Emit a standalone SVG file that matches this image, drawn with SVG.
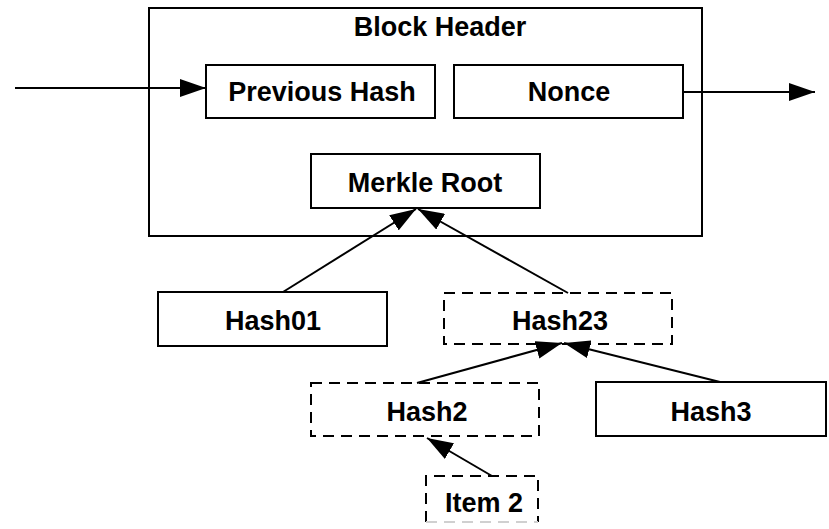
<svg xmlns="http://www.w3.org/2000/svg" width="829" height="529" viewBox="0 0 829 529">
  <style>
    .box { fill: #fff; stroke: #000; stroke-width: 2; }
    .dash { fill: #fff; stroke: #000; stroke-width: 2; stroke-dasharray: 11 7; }
    .frame { fill: none; stroke: #000; stroke-width: 2; }
    .lbl { font-family: "Liberation Sans", Arial, sans-serif; font-weight: bold; font-size: 27px; fill: #000; text-anchor: middle; }
    .edge { fill: none; stroke: #000; stroke-width: 2; marker-end: url(#head); }
  </style>
  <defs>
    <marker id="head" viewBox="0 0 26 18" refX="26" refY="9" markerWidth="26" markerHeight="18" markerUnits="userSpaceOnUse" orient="auto">
      <path d="M0,0 L26,9 L0,18 Z" fill="#000"/>
    </marker>
  </defs>

  <!-- block header frame -->
  <g id="block-header">
    <rect class="frame" x="149" y="8" width="553" height="228"/>
    <text class="lbl" x="440" y="36">Block Header</text>
  </g>

  <g id="previous-hash">
    <rect class="box" x="206" y="65" width="229" height="53"/>
    <text class="lbl" x="322" y="101">Previous Hash</text>
  </g>

  <g id="nonce">
    <rect class="box" x="454" y="65" width="229" height="53"/>
    <text class="lbl" x="569" y="101">Nonce</text>
  </g>

  <g id="merkle-root">
    <rect class="box" x="311" y="154" width="229" height="54"/>
    <text class="lbl" x="425" y="192">Merkle Root</text>
  </g>

  <g id="hash01">
    <rect class="box" x="158" y="292" width="229" height="54"/>
    <text class="lbl" x="273" y="330">Hash01</text>
  </g>

  <g id="hash23">
    <rect class="dash" x="444" y="293" width="228" height="51"/>
    <text class="lbl" x="560" y="330">Hash23</text>
  </g>

  <g id="hash2">
    <rect class="dash" x="311" y="383" width="228" height="53"/>
    <text class="lbl" x="427" y="421">Hash2</text>
  </g>

  <g id="hash3">
    <rect class="box" x="596" y="382" width="230" height="54"/>
    <text class="lbl" x="711" y="421">Hash3</text>
  </g>

  <g id="item2">
    <path d="M426,522 L426,476 L538,476 L538,522" fill="#fff" stroke="#000" stroke-width="2" stroke-dasharray="11 7"/>
    <line x1="426" y1="522" x2="538" y2="522" stroke="#d0d0d0" stroke-width="2" stroke-dasharray="11 7"/>
    <text class="lbl" x="484" y="512">Item 2</text>
  </g>

  <g id="connectors">
    <line class="edge" x1="15" y1="88" x2="206" y2="88"/>
    <line class="edge" x1="683" y1="92" x2="815" y2="92"/>
    <line class="edge" x1="283" y1="292" x2="416" y2="209"/>
    <line class="edge" x1="568" y1="293" x2="418" y2="209"/>
    <line class="edge" x1="417" y1="383" x2="562" y2="343"/>
    <line class="edge" x1="720" y1="382" x2="564" y2="343"/>
    <line class="edge" x1="492" y1="476" x2="427" y2="438"/>
  </g>
</svg>
